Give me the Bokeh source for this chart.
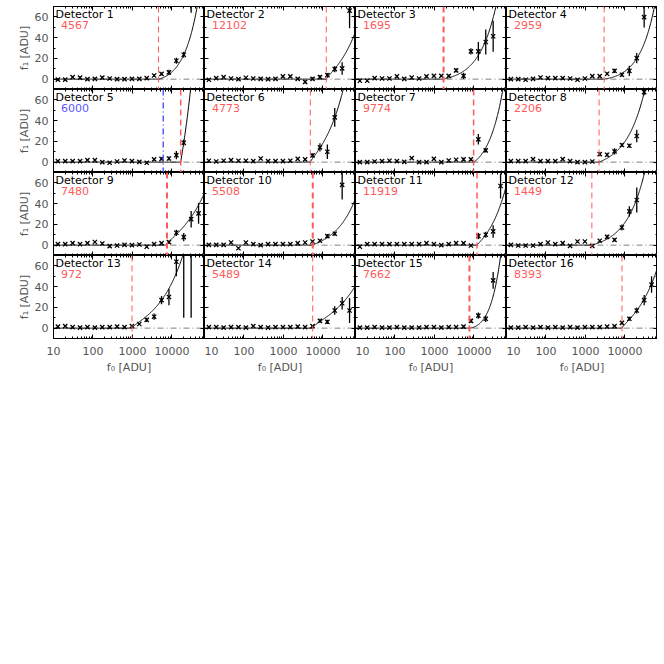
import numpy as np
from bokeh.plotting import figure
from bokeh.layouts import gridplot
from bokeh.models import (ColumnDataSource, Span, Label, FixedTicker, LinearAxis,
                          LogAxis, BasicTickFormatter, Range1d, CustomLabelingPolicy)
from bokeh.embed import file_html
from bokeh.resources import INLINE

# ---------------- data ----------------
f0 = [12.9, 19.8, 30.5, 47.0, 72.4, 111.6, 171.8, 264.5, 407.4, 627.6, 966,
      1488, 2291, 3528, 5433, 8366, 12882, 19837, 30549, 47043]

f1_det1 = [-0.5, -0.5, 2, 1.5, 0, 0.3, 1.5, 0.6, 0, 0, 0.3, 0.3, 1, 3.5, 5, 6.5, 17.7, 23.5, 80]
err_det1 = [1, 1, 1, 1, 1, 1, 1, 1, 1, 1, 1, 1, 1, 1.5, 1.5, 2.5, 3, 3, 16]
f1_det2 = [-0.6, 1, 2, 0.6, 0, 1.3, 0.6, 0.3, 0, 0.3, 2.6, 2.6, 0.3, -2.6, 0.3, 2, 3.9, 9.7, 10.3, 66]
err_det2 = [1, 1, 1, 1, 1, 1, 1, 1, 1, 1, 1, 1, 1, 1.5, 1.5, 2, 2, 3, 6, 17]
f1_det3 = [-1.6, -1.6, 1, 0.6, 0.6, 2.6, 0.3, 1.6, 0.6, 2.6, 3.2, 3.2, 3.2, 8.4, 3.2, 26.8, 26.8, 35.8, 41.3]
err_det3 = [1, 1, 1, 1, 1, 1, 1, 1, 1, 1, 1, 1, 1, 2, 3, 3, 9, 12, 15]
f1_det4 = [0, 0, -0.6, 0.3, 1.6, 1, 1, 1, 0.6, -0.6, 0.6, 2.9, 2.9, 5.2, 8, 4.2, 8, 20.3, 59.7]
err_det4 = [1, 1, 1, 1, 1, 1, 1, 1, 1, 1, 1, 1, 1, 1.5, 2, 2, 5, 5, 10]
f1_det5 = [1, 1, 1, 1, 2, 2, 0, -0.6, 0.6, 1.6, 1, 0.3, -0.6, 2.6, 3.2, 3.5, 6.8, 18.7]
err_det5 = [1, 1, 1, 1, 1, 1, 1, 1, 1, 1, 1, 1, 1, 1, 1.5, 2, 4, 3]
f1_det6 = [1.3, 0.6, 1.3, 2, 1.3, 1.3, 1, 3.5, 1, 1, 1, 1.3, 3.2, 2.6, 6.5, 14.2, 10, 43.2]
err_det6 = [1, 1, 1, 1, 1, 1, 1, 1, 1, 1, 1, 1, 1, 1, 2, 4, 7, 9]
f1_det7 = [0, 0, 0.6, 1, 1.3, 1, 0.3, 3.9, 0, 0, 3.2, 0, 1.6, 2.3, 2.6, 2.6, 22, 11.3]
err_det7 = [1, 1, 1, 1, 1, 1, 1, 1, 1, 1, 1, 1, 1, 1, 1.5, 1.5, 5, 2]
f1_det8 = [1, 1, 1, 2.9, 1, 1, 1, 2.9, 1, 0, 0, 0.6, 7.7, 7.1, 10.3, 16.5, 15.8, 25.2, 67.4]
err_det8 = [1, 1, 1, 1, 1, 1, 1, 1, 1, 1, 1, 1, 2, 2, 3, 2, 2, 6, 3]
f1_det9 = [1, 1, 2, 1, 2, 3, 1.6, -1, -0.4, 0.3, 0, 0.6, -1.6, 1, 1.9, 2.9, 11.9, 7.7, 25, 30.6]
err_det9 = [1, 1, 1, 1, 1, 1, 1, 1, 1, 1, 1, 1, 1, 1, 1, 1.5, 3, 4, 8, 10]
f1_det10 = [0.3, 0.3, 0.3, 2.5, -3, 2.5, 1, 0, 1, 1, 1, 1, 1.9, 2.5, 3.5, 4.2, 8.7, 11, 58]
err_det10 = [1, 1, 1, 1, 1, 1, 1, 1, 1, 1, 1, 1, 1, 1, 1, 1.5, 2, 2, 14]
f1_det11 = [-1.6, 1, 1, 1, 1, 1, 1, 1, 1, 1.9, 1, 0, 1, 1.9, 1.9, -0.4, 8.7, 10, 13.2, 57]
err_det11 = [1, 1, 1, 1, 1, 1, 1, 1, 1, 1, 1, 1, 1, 1, 1, 1, 3, 3, 6, 12]
f1_det12 = [0.3, -0.4, -0.4, -0.4, 1, 2.5, 1, 1.9, -0.7, 3.5, 3.5, -0.7, 4.2, 8, 5.1, 17, 32.5, 43.5]
err_det12 = [1, 1, 1, 1, 1, 1, 1, 1, 1, 1, 1, 1, 1, 2, 1.5, 3, 5, 12]
f1_det13 = [1.5, 2, 1, 0.5, 1, 0.5, 1, 1, 1.5, 1, 2, 4, 8, 11, 27, 30, 64, 80, 85]
err_det13 = [1, 1, 1, 1, 1, 1, 1, 1, 1, 1, 1, 1, 2, 3, 4, 8, 14, 70, 75]
f1_det14 = [1, 1, 0.5, 1, 1, 0.5, 2, 1, 0.5, 1, 1, 1, 1.5, 1, 2, 7, 6, 17, 24, 17]
err_det14 = [1, 1, 1, 1, 1, 1, 1, 1, 1, 1, 1, 1, 1, 1, 1, 2, 2, 4, 6, 12]
f1_det15 = [0.5, 0.5, 1, 0.5, 0.5, 1, 0.5, 0.5, 0.5, 1, 1, 0.5, 1, 1, 1.5, 7, 12, 9, 46]
err_det15 = [1, 1, 1, 1, 1, 1, 1, 1, 1, 1, 1, 1, 1, 1, 1, 2, 3, 3, 8]
f1_det16 = [0.5, 0.5, 1, 0.5, 1, 0.5, 1, 0.5, 1, 0.5, 1, 1, 1, 1.5, 2, 5, 9, 17, 27, 42]
err_det16 = [1, 1, 1, 1, 1, 1, 1, 1, 1, 1, 1, 1, 1, 1, 1, 1.5, 2, 3, 5, 8]

f1_all = [f1_det1, f1_det2, f1_det3, f1_det4, f1_det5, f1_det6, f1_det7, f1_det8,
          f1_det9, f1_det10, f1_det11, f1_det12, f1_det13, f1_det14, f1_det15, f1_det16]
err_all = [err_det1, err_det2, err_det3, err_det4, err_det5, err_det6, err_det7, err_det8,
           err_det9, err_det10, err_det11, err_det12, err_det13, err_det14, err_det15, err_det16]

# labelled value per detector and colour of that label
label_values = [4567, 12102, 1695, 2959, 6000, 4773, 9774, 2206,
                7480, 5508, 11919, 1449, 972, 5489, 7662, 8393]
label_colors = ["red"] * 4 + ["blue"] + ["red"] * 11
# fit: threshold (red line), amplitude at (f0 - t) = 1e4, power
fit_thresh = [4567, 12102, 1695, 2959, 16600, 4773, 9774, 2206,
              7480, 5508, 11919, 1449, 972, 5489, 7662, 8393]
fit_amp = [14.3, 12.2, 20.5, 11.2, 55, 31, 13.7, 25.2, 15.6, 9.5, 12.4, 25.3, 47, 13.6, 8.9, 15.3]
fit_pow = [1.17, 0.78, 1.0, 1.1, 0.955, 0.8, 1.1, 0.94, 0.66, 0.86, 0.91, 0.93, 0.69, 0.61, 1.5, 0.76]
thresh_width = [1, 1, 2, 1, 1.5, 1, 1.5, 1, 2, 2, 1.5, 1, 1, 1, 2, 1]

x_ticks = [10, 100, 1000, 10000]
y_ticks = [0, 20, 40, 60]

# ---------------- style ----------------
FONT = "DejaVu Sans"
RED = "#ff5a5a"
BLUE = "#5a5aff"
GREY_TXT = "#555555"
XMIN, XMAX = 10, 66500
YMIN, YMAX = -10, 70

x_minor = [m * d for d in (10, 100, 1000, 10000) for m in range(2, 10)]
y_minor = [-10, 10, 30, 50, 70]

figs = []
for k in range(16):
    r, c = divmod(k, 4)
    p = figure(x_axis_type="log", x_range=Range1d(XMIN, XMAX), y_range=Range1d(YMIN, YMAX),
               frame_width=151, frame_height=83, output_backend="svg", toolbar_location=None,
               min_border_left=53 if c == 0 else 0, min_border_right=0,
               min_border_top=6 if r == 0 else 0, min_border_bottom=42 if r == 3 else 0)
    p.grid.visible = False
    p.outline_line_color = "black"
    p.outline_line_width = 1
    p.add_layout(LogAxis(), "above")
    p.add_layout(LinearAxis(), "right")
    for ax in p.below + p.above:
        ax.ticker = FixedTicker(ticks=x_ticks, minor_ticks=x_minor)
        ax.formatter = BasicTickFormatter(use_scientific=False)
    for ax in p.left + p.right:
        ax.ticker = FixedTicker(ticks=y_ticks, minor_ticks=y_minor)
    for ax in p.below + p.above + p.left + p.right:
        ax.major_tick_in = 4
        ax.major_tick_out = 0
        ax.minor_tick_in = 2
        ax.minor_tick_out = 0
        ax.axis_line_color = "black"
        ax.major_tick_line_color = "black"
        ax.minor_tick_line_color = "black"
        ax.major_label_text_font = FONT
        ax.major_label_text_font_size = "0px"
        ax.major_label_standoff = 0
        ax.major_label_policy = CustomLabelingPolicy(
            code="const ids = Array.from(indices); for (const i of ids) { indices.unset(i) } return indices")
        ax.major_label_text_color = GREY_TXT
        ax.axis_label_text_font = FONT
        ax.axis_label_text_font_size = "11px"
        ax.axis_label_text_font_style = "normal"
        ax.axis_label_text_color = GREY_TXT
    if c == 0:
        ax = p.left[0]
        ax.major_label_text_font_size = "11px"
        ax.major_label_standoff = 5
        ax.major_label_policy = CustomLabelingPolicy(code="return indices")
        ax.axis_label = "f₁ [ADU]"
        ax.axis_label_standoff = 1
    if r == 3:
        ax = p.below[0]
        ax.major_label_text_font_size = "11px"
        ax.major_label_standoff = 8
        ax.major_label_policy = CustomLabelingPolicy(code="return indices")
        ax.axis_label = "f₀ [ADU]"
        ax.axis_label_standoff = 3

    y = np.array(f1_all[k], dtype=float)
    e = np.array(err_all[k], dtype=float)
    x = np.array(f0[:len(y)], dtype=float)
    src = ColumnDataSource(dict(x=x, y=y, lo=y - e, hi=y + e))

    p.add_layout(Span(location=0, dimension="width", line_color="#808080",
                      line_dash="6 3 1 3", line_width=1, level="underlay"))

    t = fit_thresh[k]
    xc = np.unique(np.concatenate([np.logspace(np.log10(XMIN), np.log10(XMAX), 500), [t]]))
    yc = np.where(xc > t, fit_amp[k] * (np.clip(xc - t, 0, None) / 1e4) ** fit_pow[k], 0.0)
    p.line(xc, yc, line_color="black", line_width=1)

    p.segment(x0="x", y0="lo", x1="x", y1="hi", source=src, line_color="black", line_width=1.3)
    p.scatter("x", "y", source=src, marker="x", size=6, line_color="black", line_width=1.3)

    p.add_layout(Span(location=t, dimension="height", line_color=RED,
                      line_dash="6 4", line_width=thresh_width[k]))
    if label_colors[k] == "blue":
        p.add_layout(Span(location=label_values[k], dimension="height", line_color=BLUE,
                          line_dash="6 3 1 3", line_width=1.5))

    p.add_layout(Label(x=11.2, y=YMAX - 1.5, text=f"Detector {k + 1}", text_baseline="top",
                       text_font=FONT, text_font_size="11px", text_color="black"))
    p.add_layout(Label(x=15.5, y=YMAX - 13.5, text=f"{label_values[k]}", text_baseline="top",
                       text_font=FONT, text_font_size="11px",
                       text_color=BLUE if label_colors[k] == "blue" else RED))
    figs.append(p)

grid = gridplot(figs, ncols=4, toolbar_location=None)
open("out.html", "w").write(file_html(grid, INLINE))
